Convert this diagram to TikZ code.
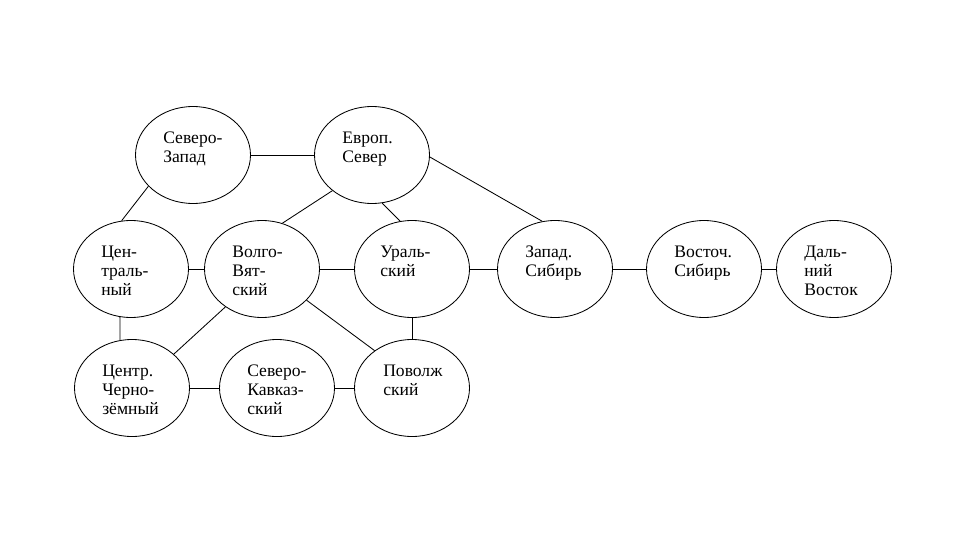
\documentclass[tikz,border=0pt]{standalone}
\usepackage{fontspec}
\setmainfont{Liberation Serif}
\usetikzlibrary{shapes.geometric}

\begin{document}
\begin{tikzpicture}[
            region/.style={draw, ellipse, minimum width=2.875cm, minimum height=2.425cm, inner sep=0pt, line width=0.6pt},
            rname/.style={anchor=north west, inner sep=0pt, align=left, font=\fontsize{12.5}{13.5}\selectfont},
            link/.style={line width=0.6pt}
        ]
        \useasboundingbox (0,0) rectangle (24,13.5);

        % --- top row ---
        \node[region] (SZ) at (4.825, 9.625) {};
        \node[region] (EvS) at (9.3, 9.625) {};
        \node[rname] (SZt) at (4.075, 10.2) {Северо-\\Запад};
        \node[rname] (EvSt) at (8.55, 10.2) {Европ.\\Север};

        % --- middle row ---
        \node[region] (C) at (3.275, 6.775) {};
        \node[region] (VV) at (6.55, 6.775) {};
        \node[region] (Ural) at (10.3, 6.775) {};
        \node[region] (ZS) at (13.875, 6.775) {};
        \node[region] (VS) at (17.6, 6.775) {};
        \node[region] (DV) at (20.85, 6.775) {};
        \node[rname] (Ct) at (2.525, 7.35) {Цен-\\траль-\\ный};
        \node[rname] (VVt) at (5.8, 7.35) {Волго-\\Вят-\\ский};
        \node[rname] (Uralt) at (9.5, 7.35) {Ураль-\\ский};
        \node[rname] (ZSt) at (13.125, 7.35) {Запад.\\Сибирь};
        \node[rname] (VSt) at (16.85, 7.35) {Восточ.\\Сибирь};
        \node[rname] (DVt) at (20.1, 7.35) {Даль-\\ний\\Восток};

        % --- bottom row ---
        \node[region] (CCh) at (3.3, 3.8) {};
        \node[region] (SK) at (6.925, 3.8) {};
        \node[region] (Pov) at (10.3, 3.8) {};
        \node[rname] (CCht) at (2.55, 4.375) {Центр.\\Черно-\\зёмный};
        \node[rname] (SKt) at (6.175, 4.375) {Северо-\\Кавказ-\\ский};
        \node[rname] (Povt) at (9.575, 4.375) {Поволж\\ский};

        % --- links ---
        \draw[link] (SZ)--(EvS);
        \draw[link] (SZ.215)--(C.101);
        \draw[link] (EvS.222)--(VV.66);
        \draw[link] (EvS.282)--(Ural.104);
        \draw[link] (EvS.358)--(ZS.105);
        \draw[link] (C)--(VV);
        \draw[link] (VV)--(Ural);
        \draw[link] (Ural)--(ZS);
        \draw[link] (ZS)--(VS);
        \draw[link] (VS)--(DV);
        \draw[link] (C.257)--(CCh.104);
        \draw[link] (VV.226)--(CCh.39);
        \draw[link] (VV.325)--(Pov.135);
        \draw[link] (Ural)--(Pov);
        \draw[link] (CCh)--(SK);
        \draw[link] (SK)--(Pov);
        \end{tikzpicture}
\end{document}
